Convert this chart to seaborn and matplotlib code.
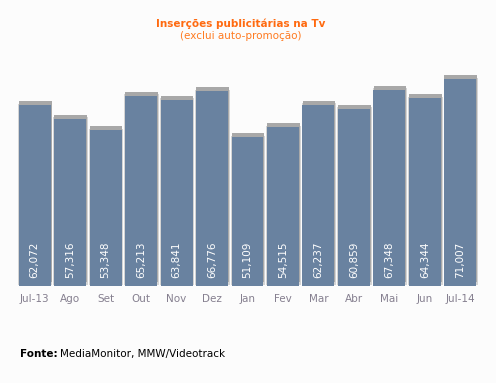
import numpy as np
import pandas as pd
import seaborn as sns
import matplotlib.pyplot as plt
from matplotlib.transforms import ScaledTranslation

months = ['Jul-13', 'Ago', 'Set', 'Out', 'Nov', 'Dez', 'Jan', 'Fev', 'Mar', 'Abr', 'Mai', 'Jun', 'Jul-14']
values = [62072, 57316, 53348, 65213, 63841, 66776, 51109, 54515, 62237, 60859, 67348, 64344, 71007]
labels = ['62,072', '57,316', '53,348', '65,213', '63,841', '66,776', '51,109',
          '54,515', '62,237', '60,859', '67,348', '64,344', '71,007']

df = pd.DataFrame({'Mes': months, 'Insercoes': values})

sns.set_style('white')
plt.rcParams['font.family'] = ['DejaVu Sans']

fig = plt.figure(figsize=(4.96, 3.83), dpi=100, facecolor='#fcfcfc')
ax = fig.add_axes([17 / 496, 97 / 383, 461 / 496, 216 / 383])
ax.set_facecolor('#fcfcfc')

# soft halo around bars (light) and darker shadow on top
sns.barplot(data=df, x='Mes', y='Insercoes', color='#d4d4d4', width=0.97,
            saturation=1, linewidth=0, ax=ax)
n0 = len(ax.patches)
sns.barplot(data=df, x='Mes', y='Insercoes', color='#a8a8a8', width=0.92,
            saturation=1, linewidth=0, ax=ax)
shift = ScaledTranslation(0.5 / 100, 4 / 100, fig.dpi_scale_trans)
for p in ax.patches[:len(ax.patches)]:
    p.set_transform(ax.transData + shift)
for p in ax.patches[:n0]:
    p.set_transform(ax.transData + ScaledTranslation(0.5 / 100, 1.5 / 100, fig.dpi_scale_trans))
n1 = len(ax.patches)

sns.barplot(data=df, x='Mes', y='Insercoes', color='#6982a0', width=0.9,
            saturation=1, linewidth=0, ax=ax)

for i, lab in enumerate(labels):
    ax.text(i, 2800, lab, rotation=90, ha='center', va='bottom',
            color='white', fontsize=7.5)

ax.set_ylim(0, 74100)
ax.set_xlim(-0.5, len(months) - 0.5)
ax.set_xlabel('')
ax.set_ylabel('')
ax.set_yticks([])
ax.tick_params(axis='x', length=0, pad=6, labelsize=7.5, labelcolor='#857f8f')
sns.despine(ax=ax, left=True, bottom=True)

fig.text(241 / 496, 1 - 24 / 383, 'Inserções publicitárias na Tv', ha='center', va='center',
         color='#ff6a10', fontsize=7.5, fontweight='bold')
fig.text(241 / 496, 1 - 36 / 383, '(exclui auto-promoção)', ha='center', va='center',
         color='#ff7a20', fontsize=7.5)

fig.text(20 / 496, 1 - 354 / 383, 'Fonte:', ha='left', va='center',
         color='black', fontsize=7.5, fontweight='bold')
fig.text(60 / 496, 1 - 354 / 383, 'MediaMonitor, MMW/Videotrack', ha='left', va='center',
         color='black', fontsize=7.5)

fig.savefig('out.png', dpi=100, facecolor=fig.get_facecolor())
